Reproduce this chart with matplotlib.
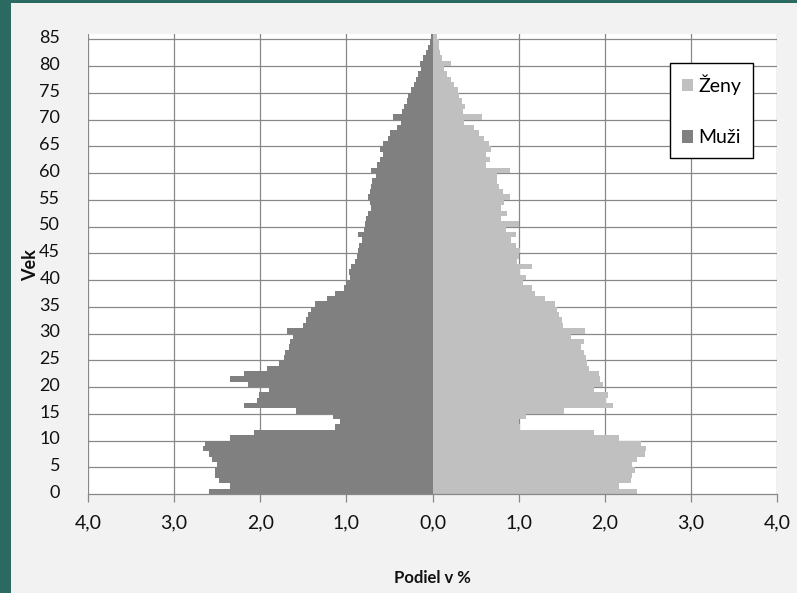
import numpy as np
import matplotlib
matplotlib.use("Agg")
import matplotlib.pyplot as plt
from matplotlib.patches import Rectangle

plt.rcParams['font.family'] = ['Lato', 'DejaVu Sans']

ages = list(range(0, 86))
muzi = [2.60, 2.35, 2.48, 2.52, 2.52, 2.50, 2.56, 2.60, 2.66, 2.64,
        2.35, 2.07, 1.13, 1.07, 1.16, 1.58, 2.19, 2.04, 2.02, 1.90,
        2.14, 2.35, 2.19, 1.92, 1.78, 1.73, 1.71, 1.67, 1.65, 1.62,
        1.69, 1.50, 1.47, 1.44, 1.41, 1.36, 1.22, 1.13, 1.03, 1.00,
        0.96, 0.97, 0.95, 0.90, 0.88, 0.87, 0.85, 0.82, 0.86, 0.79,
        0.78, 0.77, 0.75, 0.71, 0.73, 0.75, 0.73, 0.71, 0.70, 0.66,
        0.71, 0.65, 0.61, 0.58, 0.61, 0.57, 0.52, 0.49, 0.41, 0.37,
        0.46, 0.35, 0.33, 0.30, 0.28, 0.25, 0.21, 0.19, 0.17, 0.13,
        0.15, 0.11, 0.07, 0.05, 0.03, 0.02]
zeny = [2.38, 2.17, 2.30, 2.32, 2.35, 2.32, 2.37, 2.47, 2.48, 2.42,
        2.17, 1.88, 1.02, 1.01, 1.08, 1.53, 2.09, 2.01, 2.04, 1.88,
        1.98, 1.95, 1.93, 1.82, 1.79, 1.78, 1.76, 1.73, 1.76, 1.61,
        1.77, 1.52, 1.50, 1.47, 1.44, 1.42, 1.31, 1.19, 1.16, 1.05,
        1.09, 1.02, 1.16, 0.98, 1.01, 1.02, 0.97, 0.91, 0.97, 0.85,
        1.00, 0.80, 0.87, 0.80, 0.83, 0.90, 0.82, 0.77, 0.75, 0.75,
        0.90, 0.62, 0.67, 0.62, 0.68, 0.66, 0.60, 0.54, 0.48, 0.36,
        0.58, 0.35, 0.38, 0.34, 0.31, 0.30, 0.25, 0.21, 0.17, 0.13,
        0.22, 0.11, 0.09, 0.08, 0.07, 0.05]

y_ticks = list(range(0, 86, 5))
x_ticks = [-4, -3, -2, -1, 0, 1, 2, 3, 4]
x_labels = ['4,0', '3,0', '2,0', '1,0', '0,0', '1,0', '2,0', '3,0', '4,0']

W, H = 797, 593
fig = plt.figure(figsize=(W / 100, H / 100), dpi=100)
fig.patch.set_facecolor('#f2f2f2')

# teal frame on the left / top
fig.patches.append(Rectangle((0, 0), 11 / W, 1, transform=fig.transFigure,
                             facecolor='#2a6a60', edgecolor='none', zorder=0))
fig.patches.append(Rectangle((0, 1 - 3 / H), 1, 3 / H, transform=fig.transFigure,
                             facecolor='#2a6a60', edgecolor='none', zorder=0))

ax = fig.add_axes([88 / W, 99 / H, (777 - 88) / W, (494 - 34) / H])
ax.set_facecolor('white')

ax.barh(ages, [-v for v in muzi], height=1.0, color='#808080', linewidth=0,
        label='Muži', zorder=2)
ax.barh(ages, zeny, height=1.0, color='#c0c0c0', linewidth=0,
        label='Ženy', zorder=2)

ax.set_xlim(-4, 4)
ax.set_ylim(-0.5, 85.5)

ax.set_xticks(x_ticks)
ax.set_xticklabels(x_labels, fontsize=14)
ax.set_yticks(y_ticks)
ax.set_yticklabels([str(t) for t in y_ticks], fontsize=13)
ax.set_yticks([t - 0.5 for t in y_ticks if t > 0], minor=True)

ax.grid(True, which='major', axis='x', color='#888888', linewidth=0.9, zorder=1)
ax.grid(True, which='minor', axis='y', color='#888888', linewidth=0.9, zorder=1)
ax.set_axisbelow(True)

for s in ['top', 'right', 'left']:
    ax.spines[s].set_visible(False)
ax.spines['bottom'].set_color('#888888')
ax.spines['bottom'].set_linewidth(0.9)

ax.tick_params(axis='x', which='major', length=6, color='#888888', width=0.9,
               pad=9, labelcolor='#111111')
ax.tick_params(axis='y', which='both', length=0, pad=20, labelcolor='#111111')

fig.text(432 / W, 1 - 578 / H, 'Podiel v %', fontsize=12, fontweight='bold',
         ha='center', va='center', color='#111111')
fig.text(31 / W, 1 - 265 / H, 'Vek', rotation=90, fontsize=13,
         fontweight='bold', ha='center', va='center', color='#111111')

handles, labels = ax.get_legend_handles_labels()
leg = fig.legend(handles[::-1], labels[::-1], loc='upper left',
                 bbox_to_anchor=(670 / W, 1 - 63 / H), bbox_transform=fig.transFigure,
                 borderaxespad=0, frameon=True, fancybox=False, fontsize=14,
                 handlelength=0.6, handleheight=0.6, handletextpad=0.25,
                 labelspacing=1.75, borderpad=0.6)
leg.get_frame().set_edgecolor('black')
leg.get_frame().set_linewidth(1.0)
leg.get_frame().set_facecolor('white')
leg.get_frame().set_alpha(1)

fig.savefig('out.png', dpi=100, facecolor=fig.get_facecolor())
